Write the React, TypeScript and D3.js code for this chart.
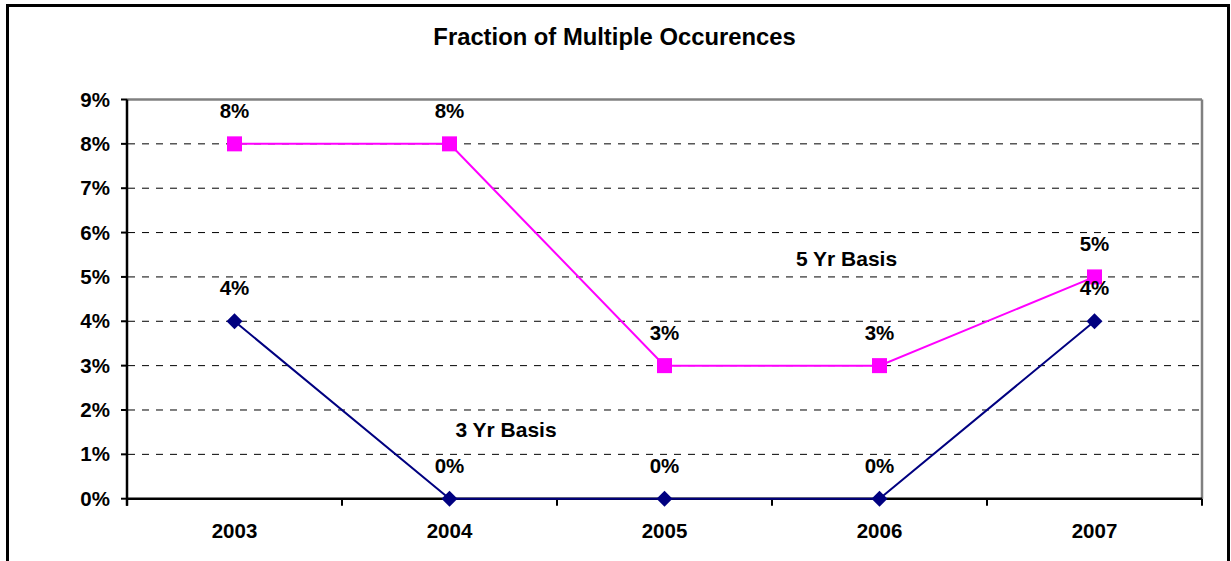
import React from "react";
import * as d3 from "d3";

const categories = ["2003", "2004", "2005", "2006", "2007"];
const fiveYr = [0.08, 0.08, 0.03, 0.03, 0.05];
const threeYr = [0.04, 0.0, 0.0, 0.0, 0.04];
const yTicks = [0, 0.01, 0.02, 0.03, 0.04, 0.05, 0.06, 0.07, 0.08, 0.09];
const title = "Fraction of Multiple Occurences";

const W = 1231;
const H = 561;
const left = 127;
const right = 1202;
const top = 99.5;
const bottom = 498.7;
const FONT = "Arial, 'Liberation Sans', Helvetica, sans-serif";

export default function App() {
  const x = d3.scaleBand<string>().domain(categories).range([left, right]).padding(0);
  const y = d3.scaleLinear().domain([0, 0.09]).range([bottom, top]);
  const cx = (c: string) => (x(c) as number) + x.bandwidth() / 2;
  const fmt = d3.format(".0%");
  const line = d3
    .line<number>()
    .x((_, i) => cx(categories[i]))
    .y((d) => y(d));
  const boundaries = [...categories.map((c) => x(c) as number), right];
  const diamond = d3.symbol(d3.symbolSquare, 128)();

  return (
    <svg
      width={W}
      height={H}
      style={{ position: "fixed", left: 0, top: 0, background: "#fff" }}
      fontFamily={FONT}
      fontWeight="bold"
    >
      <rect x={0} y={0} width={W} height={H} fill="#fff" />
      <rect x={7.5} y={5.5} width={1221} height={620} fill="none" stroke="#000" strokeWidth={3} />
      <text x={614.5} y={44.5} textAnchor="middle" fontSize={23.8}>
        {title}
      </text>

      {/* gridlines */}
      {yTicks
        .filter((t) => t > 0 && t < 0.09)
        .map((t) => (
          <line
            key={t}
            x1={left + 1}
            x2={right - 1}
            y1={y(t)}
            y2={y(t)}
            stroke="#000"
            strokeWidth={1}
            strokeDasharray="7,7"
          />
        ))}

      {/* plot border */}
      <line x1={left} x2={right} y1={top} y2={top} stroke="#808080" strokeWidth={2.3} />
      <line x1={right} x2={right} y1={top} y2={bottom} stroke="#808080" strokeWidth={2.5} />

      {/* y axis */}
      <line x1={left} x2={left} y1={top} y2={bottom + 7} stroke="#000" strokeWidth={2.5} />
      {yTicks.map((t) => (
        <g key={t}>
          <line x1={left - 6} x2={left} y1={y(t)} y2={y(t)} stroke="#000" strokeWidth={2} />
          <text x={110} y={y(t) + 7} textAnchor="end" fontSize={20.5}>
            {fmt(t)}
          </text>
        </g>
      ))}

      {/* x axis */}
      <line x1={left} x2={right} y1={bottom} y2={bottom} stroke="#000" strokeWidth={2.5} />
      {boundaries.map((b, i) => (
        <line key={i} x1={b} x2={b} y1={bottom} y2={bottom + 7} stroke="#000" strokeWidth={2} />
      ))}
      {categories.map((c) => (
        <text key={c} x={cx(c)} y={537.7} textAnchor="middle" fontSize={20.5}>
          {c}
        </text>
      ))}

      {/* series */}
      <path d={line(threeYr) as string} fill="none" stroke="#000080" strokeWidth={2} />
      <path d={line(fiveYr) as string} fill="none" stroke="#FF00FF" strokeWidth={2} />
      {threeYr.map((v, i) => (
        <path
          key={"d" + i}
          d={diamond as string}
          transform={`translate(${cx(categories[i])},${y(v)}) rotate(45)`}
          fill="#000080"
        />
      ))}
      {fiveYr.map((v, i) => (
        <rect
          key={"s" + i}
          x={cx(categories[i]) - 7.5}
          y={y(v) - 7.5}
          width={15}
          height={15}
          fill="#FF00FF"
        />
      ))}

      {/* data labels */}
      {fiveYr.map((v, i) => (
        <text key={"l5" + i} x={cx(categories[i])} y={y(v) - 26} textAnchor="middle" fontSize={20.5}>
          {fmt(v)}
        </text>
      ))}
      {threeYr.map((v, i) => (
        <text key={"l3" + i} x={cx(categories[i])} y={y(v) - 26} textAnchor="middle" fontSize={20.5}>
          {fmt(v)}
        </text>
      ))}

      <text x={846.5} y={265.7} textAnchor="middle" fontSize={21}>
        5 Yr Basis
      </text>
      <text x={506} y={437} textAnchor="middle" fontSize={21}>
        3 Yr Basis
      </text>
    </svg>
  );
}
